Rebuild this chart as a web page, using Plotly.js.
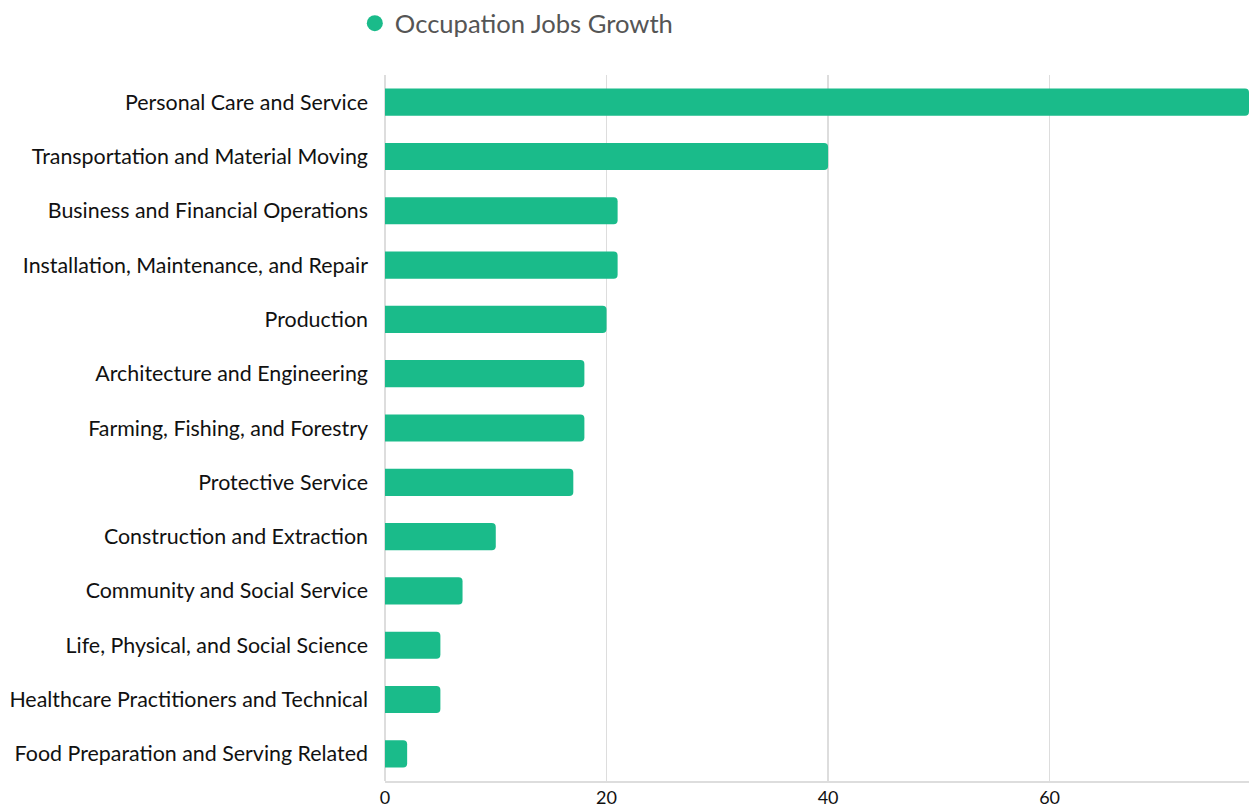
<!DOCTYPE html>
<html>
<head>
<meta charset="utf-8">
<script src="https://cdn.plot.ly/plotly-3.0.1.min.js"></script>
<style>html,body{margin:0;padding:0;background:#fff;}#chart{width:1256px;height:809px;}</style>
</head>
<body>
<div id="chart"></div>
<script>
const categories = [
  "Personal Care and Service",
  "Transportation and Material Moving",
  "Business and Financial Operations",
  "Installation, Maintenance, and Repair",
  "Production",
  "Architecture and Engineering",
  "Farming, Fishing, and Forestry",
  "Protective Service",
  "Construction and Extraction",
  "Community and Social Service",
  "Life, Physical, and Social Science",
  "Healthcare Practitioners and Technical",
  "Food Preparation and Serving Related"
];
const jobsGrowth = [78, 40, 21, 21, 20, 18, 18, 17, 10, 7, 5, 5, 2];
const xTicks = [0, 20, 40, 60];
const seriesName = "Occupation Jobs Growth";
const barColor = "#1abb8a";

const traces = [
  {
    type: "bar",
    orientation: "h",
    x: jobsGrowth,
    y: categories,
    marker: {color: barColor, cornerradius: 4},
    showlegend: false,
    hoverinfo: "x+y"
  },
  {
    type: "scatter",
    mode: "markers",
    x: [null],
    y: [null],
    name: seriesName,
    marker: {color: barColor, size: 20, symbol: "circle"},
    showlegend: true
  }
];

const layout = {
  width: 1256,
  height: 809,
  margin: {l: 385, r: 7, t: 75, b: 28, autoexpand: false},
  paper_bgcolor: "#ffffff",
  plot_bgcolor: "#ffffff",
  font: {family: "Lato, 'Open Sans', sans-serif", color: "#222222"},
  bargap: 0.5,
  showlegend: true,
  legend: {
    orientation: "h",
    xref: "container", yref: "container",
    x: 0.2825, y: 1, xanchor: "left", yanchor: "top",
    font: {size: 25.6, color: "#555555"},
    itemsizing: "trace"
  },
  xaxis: {
    range: [0, 78],
    tickvals: xTicks,
    ticktext: xTicks.map(String),
    showgrid: true,
    gridcolor: "#dddddd",
    gridwidth: 1.5,
    zeroline: true,
    zerolinecolor: "#dddddd",
    zerolinewidth: 1.5,
    showline: true,
    linecolor: "#dddddd",
    linewidth: 1.5,
    ticks: "",
    tickfont: {size: 18, color: "#111111"},
    fixedrange: true
  },
  yaxis: {
    type: "category",
    categoryorder: "array",
    categoryarray: categories,
    autorange: "reversed",
    showgrid: false,
    zeroline: false,
    showline: false,
    ticks: "",
    ticklabelstandoff: 16,
    tickfont: {size: 21.4, color: "#111111"},
    fixedrange: true
  }
};

Plotly.newPlot("chart", traces, layout, {displayModeBar: false, staticPlot: true});
</script>
</body>
</html>
